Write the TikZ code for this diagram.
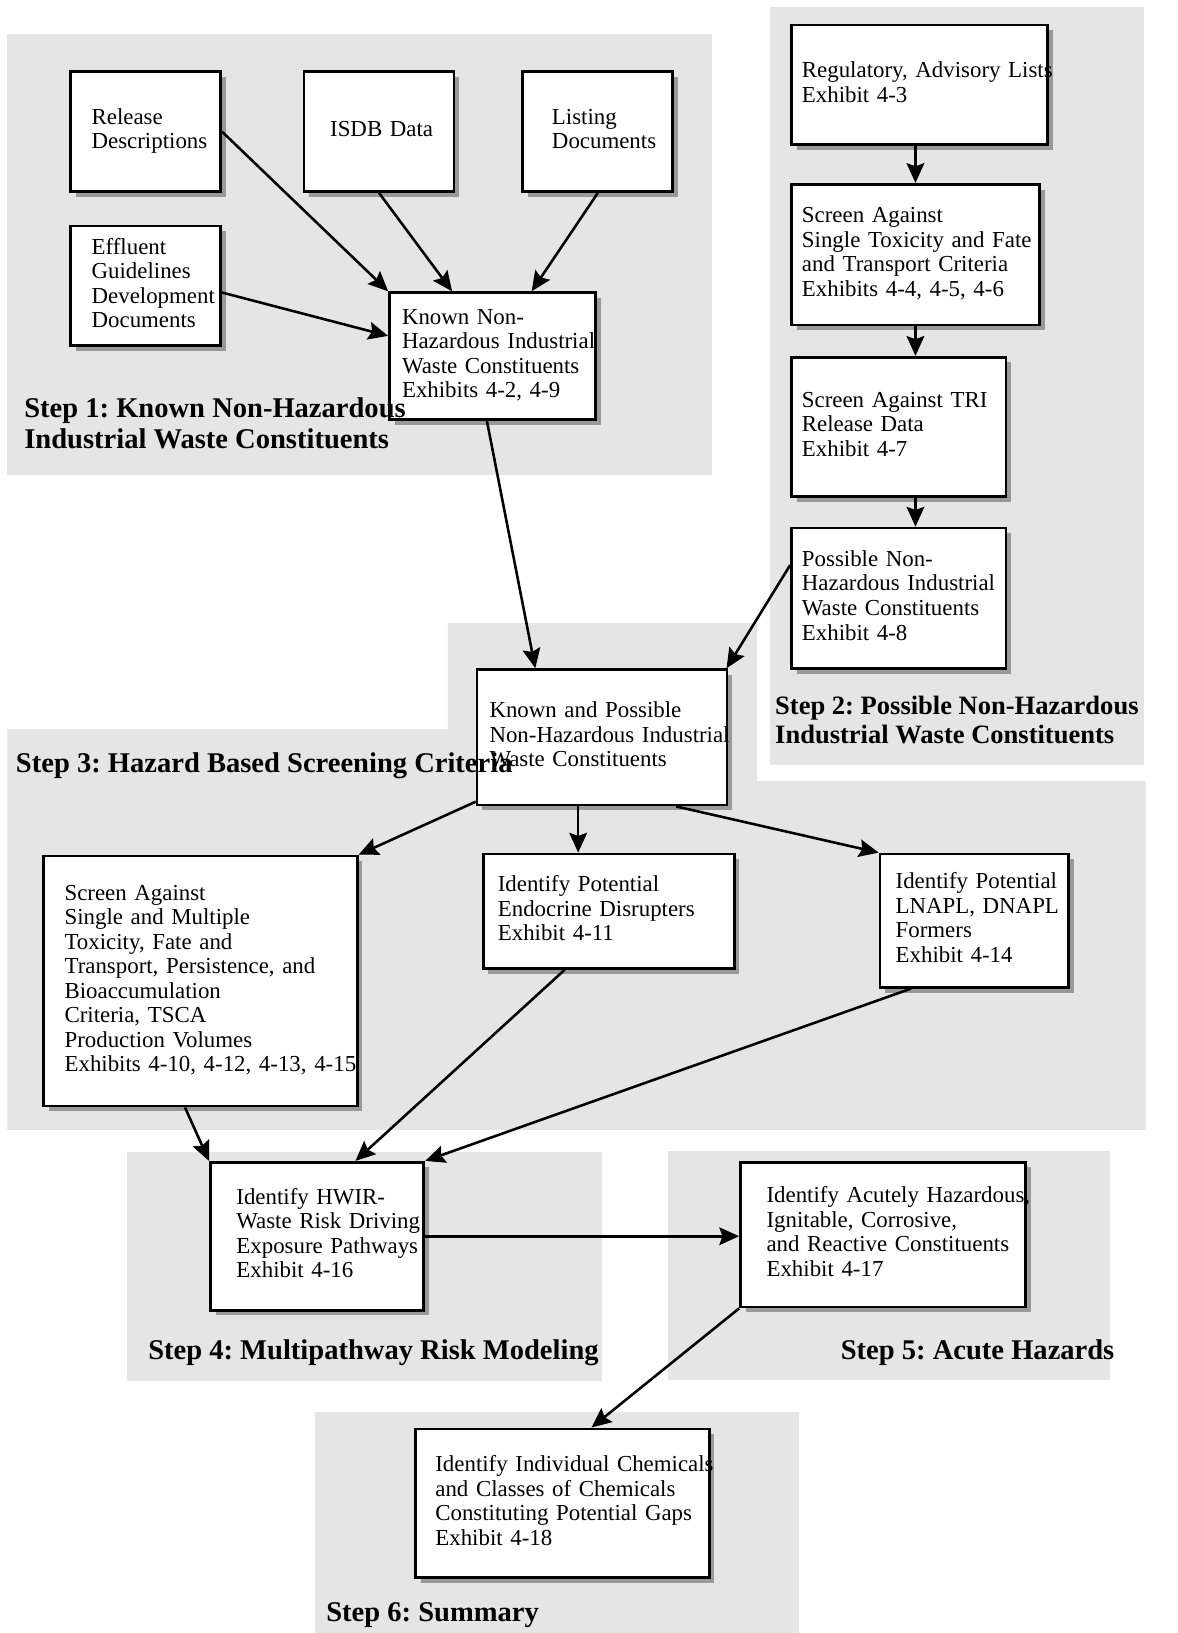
\documentclass[tikz,border=0pt]{standalone}
\usepackage{fontspec}
\setmainfont{Liberation Serif}
\usetikzlibrary{arrows.meta,shadows}

\newcommand{\boxlines}[1]{\begin{tabular}{@{}l@{}}#1\end{tabular}}

\tikzset{
  stepbg/.style={fill=black!10, draw=none},
  box/.style={draw, line width=1.5pt, fill=white, align=left, inner ysep=0pt,
    font=\fontsize{12.5}{13.4}\selectfont,
    drop shadow={shadow xshift=0.1cm, shadow yshift=-0.1cm, fill=black!40, opacity=1}},
  steplabel/.style={anchor=west, inner sep=0pt, align=left,
    font=\fontsize{15.6}{16.5}\selectfont\bfseries},
  flow/.style={line width=1.4pt, -{Stealth[length=0.38cm, width=0.34cm, inset=0.06cm]}}
}

\begin{document}
\frenchspacing
\begin{tikzpicture}[x=0.02cm, y=-0.02cm]
  \useasboundingbox (0,0) rectangle (1131,1568);

  % step backgrounds
  \fill[stepbg] (7,33) rectangle (684,456);
  \fill[stepbg] (739,7) rectangle (1098,735);
  \fill[stepbg] (7,700) -- (430,700) -- (430,598) -- (727,598) -- (727,750)
    -- (1100,750) -- (1100,1085) -- (7,1085) -- cycle;
  \fill[stepbg] (122,1106) rectangle (578,1326);
  \fill[stepbg] (641,1105) rectangle (1066,1325);
  \fill[stepbg] (302,1356) rectangle (767,1568);

  % step 1
  \node[box, text width=2.08cm, inner xsep=0.4cm, minimum height=2.3cm] (rel) at (140,126.5) {\boxlines{Release\\Descriptions}};
  \node[box, text width=1.88cm, inner xsep=0.5cm, minimum height=2.3cm] (isdb) at (364,126.5) {\boxlines{ISDB Data}};
  \node[box, text width=1.76cm, inner xsep=0.56cm, minimum height=2.3cm] (list) at (574,126.5) {\boxlines{Listing\\Documents}};
  \node[box, text width=2.08cm, inner xsep=0.4cm, minimum height=2.3cm] (eff) at (140,274.5) {\boxlines{Effluent\\Guidelines\\Development\\Documents}};
  \node[box, text width=3.48cm, inner xsep=0.24cm, minimum height=2.44cm] (knh) at (473,342) {\boxlines{Known Non-\\Hazardous Industrial\\Waste Constituents\\Exhibits 4-2, 4-9}};

  % step 2
  \node[box, text width=4.52cm, inner xsep=0.2cm, minimum height=2.3cm] (reg) at (883,81.5) {\boxlines{Regulatory, Advisory Lists\\Exhibit 4-3}};
  \node[box, text width=4.36cm, inner xsep=0.2cm, minimum height=2.7cm] (scr) at (879,244.5) {\boxlines{Screen Against\\Single Toxicity and Fate\\and Transport Criteria\\Exhibits 4-4, 4-5, 4-6}};
  \node[box, text width=3.72cm, inner xsep=0.2cm, minimum height=2.68cm] (tri) at (863,410) {\boxlines{Screen Against TRI\\Release Data\\Exhibit 4-7}};
  \node[box, text width=3.72cm, inner xsep=0.2cm, minimum height=2.7cm] (pos) at (863,574.5) {\boxlines{Possible Non-\\Hazardous Industrial\\Waste Constituents\\Exhibit 4-8}};

  % step 3
  \node[box, text width=4.32cm, inner xsep=0.24cm, minimum height=2.6cm] (kp) at (578,708) {\boxlines{Known and Possible\\Non-Hazardous Industrial\\Waste Constituents}};
  \node[box, text width=5.22cm, inner xsep=0.4cm, minimum height=4.8cm] (sam) at (192.5,942) {\boxlines{Screen Against\\Single and Multiple\\Toxicity, Fate and\\Transport, Persistence, and\\Bioaccumulation\\Criteria, TSCA\\Production Volumes\\Exhibits 4-10, 4-12, 4-13, 4-15}};
  \node[box, text width=4.26cm, inner xsep=0.28cm, minimum height=2.2cm] (ed) at (584.5,875) {\boxlines{Identify Potential\\Endocrine Disrupters\\Exhibit 4-11}};
  \node[box, text width=3.02cm, inner xsep=0.3cm, minimum height=2.56cm] (lnapl) at (935.5,884) {\boxlines{Identify Potential\\LNAPL, DNAPL\\Formers\\Exhibit 4-14}};

  % steps 4 to 6
  \node[box, text width=3.1cm, inner xsep=0.5cm, minimum height=2.84cm] (hwir) at (304.5,1187) {\boxlines{Identify HWIR-\\Waste Risk Driving\\Exposure Pathways\\Exhibit 4-16}};
  \node[box, text width=4.48cm, inner xsep=0.5cm, minimum height=2.78cm] (acute) at (848,1185.5) {\boxlines{Identify Acutely Hazardous,\\Ignitable, Corrosive,\\and Reactive Constituents\\Exhibit 4-17}};
  \node[box, text width=4.88cm, inner xsep=0.38cm, minimum height=2.86cm] (gaps) at (540,1443.5) {\boxlines{Identify Individual Chemicals\\and Classes of Chemicals\\Constituting Potential Gaps\\Exhibit 4-18}};

  % connectors
  \draw[flow] (rel.east) -- (knh.north west);
  \draw[flow] (isdb.south) -- (knh.122);
  \draw[flow] (list.south) -- (knh.59);
  \draw[flow] (eff.-5) -- (knh.169);
  \draw[flow] (knh.265) -- (kp.134);
  \draw[flow] (scr.north |- reg.south) -- (scr.north);
  \draw[flow] (scr.south) -- (scr.south |- tri.north);
  \draw[flow] (scr.south |- tri.south) -- (scr.south |- pos.north);
  \draw[flow] (pos.163) -- (kp.29);
  \draw[flow] (kp.207) -- (sam.north east);
  \draw[flow] (kp.251) -- (kp.251 |- ed.north);
  \draw[flow] (kp.317) -- (lnapl.north west);
  \draw[flow] (sam.263) -- (hwir.north west);
  \draw[flow] (ed.233) -- (hwir.63);
  \draw[flow] (lnapl.227) -- (hwir.north east);
  \draw[flow] (hwir.east) -- (hwir.east -| acute.west);
  \draw[flow] (acute.south west) -- (gaps.69);

  % step labels
  \node[steplabel] (lab1) at (23,406.5) {Step 1: Known Non-Hazardous\\Industrial Waste Constituents};
  \node[steplabel, font=\fontsize{14.5}{15.9}\selectfont\bfseries] (lab2) at (744,691) {Step 2: Possible Non-Hazardous\\Industrial Waste Constituents};
  \node[steplabel] (lab3) at (15,735) {Step 3: Hazard Based Screening Criteria};
  \node[steplabel] (lab4) at (142,1299) {Step 4: Multipathway Risk Modeling};
  \node[steplabel] (lab5) at (807,1299) {Step 5: Acute Hazards};
  \node[steplabel] (lab6) at (313,1551) {Step 6: Summary};
\end{tikzpicture}
\end{document}
